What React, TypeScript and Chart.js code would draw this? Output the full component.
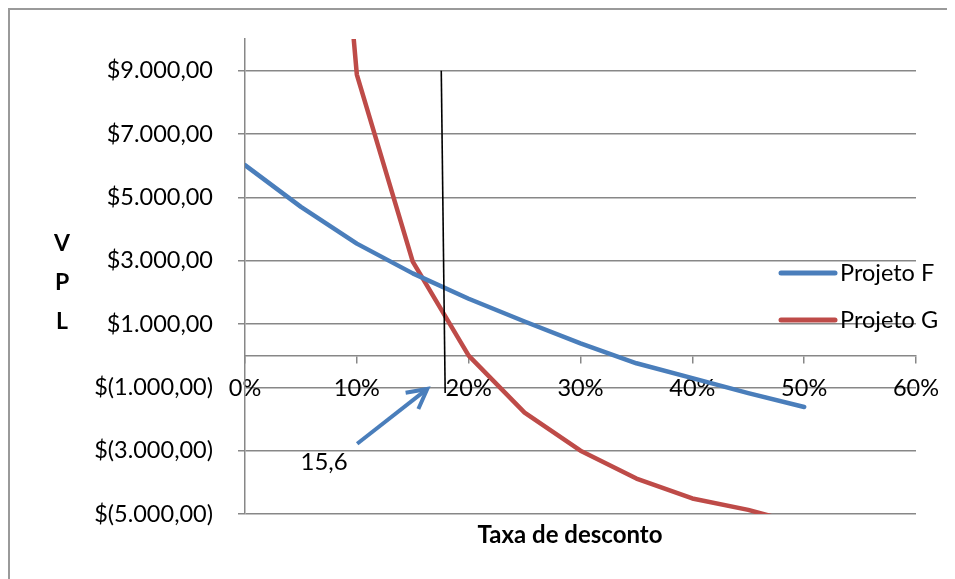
import React, { useEffect, useRef } from "react";
import { Chart, registerables } from "chart.js";

Chart.register(...registerables);

// Discount rates (%) and net present values for each project
const rates = [0, 5, 10, 15, 20, 25, 30, 35, 40, 45, 50];
const projetoF = [6020, 4700, 3540, 2600, 1800, 1080, 390, -240, -710, -1180, -1620];
const projetoG = [52000, 29000, 8880, 2970, 0, -1800, -3000, -3880, -4510, -4870, -5350];

const seriesNames = ["Projeto F", "Projeto G"];
const seriesColors = ["#4A7EBB", "#BE4B48"];

const xTicks = [0, 10, 20, 30, 40, 50, 60];
const yTicks = [-5000, -3000, -1000, 1000, 3000, 5000, 7000, 9000];

const yTitleLetters = ["V", "P", "L"];
const xTitle = "Taxa de desconto";

// Hand-drawn annotations, in data units (rate %, VPL)
const markerTop = [17.55, 9000];
const markerBottom = [17.9, -1180];
const arrowTail = [10.03, -2780];
const arrowTip = [16.3, -1050];
const calloutText = "15,6";
const calloutAt = [7.07, -3380];

const FONT = "Lato, 'Open Sans', sans-serif";
const GRID = "#878787";

function money(v: number): string {
  const abs = Math.abs(v);
  const intPart = Math.floor(abs)
    .toString()
    .replace(/\B(?=(\d{3})+(?!\d))/g, ".");
  const s = intPart + ",00";
  return v < 0 ? `$(${s})` : `$${s}`;
}

const overlayPlugin = {
  id: "overlay",
  afterDraw(chart: any) {
    const { ctx, chartArea } = chart;
    const xs = chart.scales.x;
    const ys = chart.scales.y;
    const px = (p: number[]) => [xs.getPixelForValue(p[0]), ys.getPixelForValue(p[1])];
    ctx.save();

    // outer frame (left and top edges)
    ctx.strokeStyle = "#9a9a9a";
    ctx.lineWidth = 2;
    ctx.beginPath();
    ctx.moveTo(9, chart.height);
    ctx.lineTo(9, 9);
    ctx.lineTo(947, 9);
    ctx.stroke();

    // vertical marker line
    const [mx1, my1] = px(markerTop);
    const [mx2, my2] = px(markerBottom);
    ctx.strokeStyle = "#000";
    ctx.lineWidth = 1.6;
    ctx.beginPath();
    ctx.moveTo(mx1, my1);
    ctx.lineTo(mx2, my2);
    ctx.stroke();

    // arrow
    const [ax1, ay1] = px(arrowTail);
    const [ax2, ay2] = px(arrowTip);
    ctx.strokeStyle = seriesColors[0];
    ctx.lineWidth = 4;
    ctx.lineCap = "butt";
    ctx.lineJoin = "miter";
    const ang = Math.atan2(ay2 - ay1, ax2 - ax1);
    ctx.beginPath();
    ctx.moveTo(ax1, ay1);
    ctx.lineTo(ax2 - Math.cos(ang) * 2, ay2 - Math.sin(ang) * 2);
    ctx.stroke();
    const head = 22;
    const spread = (28 * Math.PI) / 180;
    ctx.beginPath();
    ctx.moveTo(ax2 - head * Math.cos(ang - spread), ay2 - head * Math.sin(ang - spread));
    ctx.lineTo(ax2, ay2);
    ctx.lineTo(ax2 - head * Math.cos(ang + spread), ay2 - head * Math.sin(ang + spread));
    ctx.stroke();

    // callout text
    const [cx, cy] = px(calloutAt);
    ctx.fillStyle = "#000";
    ctx.font = `24px ${FONT}`;
    ctx.textAlign = "center";
    ctx.textBaseline = "middle";
    ctx.fillText(calloutText, cx, cy);

    // axis titles
    ctx.font = `bold 23px ${FONT}`;
    const midY = (chartArea.top + chartArea.bottom) / 2;
    yTitleLetters.forEach((ch, i) => {
      ctx.fillText(ch, 62, midY - 33 + i * 39);
    });
    ctx.font = `bold 24px ${FONT}`;
    ctx.fillText(xTitle, 570, chartArea.bottom + 21);

    // legend
    ctx.textAlign = "left";
    ctx.font = `23.5px ${FONT}`;
    seriesNames.forEach((name, i) => {
      const y = midY - 3.5 + i * 47;
      ctx.strokeStyle = seriesColors[i];
      ctx.lineWidth = 5;
      ctx.lineCap = "round";
      ctx.beginPath();
      ctx.moveTo(chartArea.right - 135, y);
      ctx.lineTo(chartArea.right - 81, y);
      ctx.stroke();
      ctx.fillStyle = "#000";
      ctx.fillText(name, chartArea.right - 76, y);
    });

    ctx.restore();
  },
};

export default function App() {
  const canvasRef = useRef<HTMLCanvasElement | null>(null);

  useEffect(() => {
    if (!canvasRef.current) return;
    const series = [projetoF, projetoG];
    const chart = new Chart(canvasRef.current, {
      type: "line",
      data: {
        datasets: series.map((vals, i) => ({
          label: seriesNames[i],
          data: rates.map((r, j) => ({ x: r, y: vals[j] })),
          borderColor: seriesColors[i],
          backgroundColor: seriesColors[i],
          borderWidth: 4.5,
          borderCapStyle: "round",
          borderJoinStyle: "round",
          pointRadius: 0,
          tension: 0,
          clip: 0,
        })),
      },
      options: {
        responsive: false,
        animation: false,
        devicePixelRatio: 1,
        layout: { padding: { top: 37, right: 39, bottom: 65, left: 0 } },
        plugins: {
          legend: { display: false },
          tooltip: { enabled: false },
        },
        scales: {
          x: {
            type: "linear",
            position: { y: 0 },
            min: 0,
            max: 60,
            afterBuildTicks: (s: any) => {
              s.ticks = xTicks.map((v) => ({ value: v }));
            },
            ticks: {
              callback: (v: any) => `${v}%`,
              color: "#000",
              font: { family: FONT, size: 23.5 },
              padding: 12,
              maxRotation: 0,
              autoSkip: false,
            },
            grid: {
              drawOnChartArea: false,
              drawTicks: true,
              tickLength: 7,
              color: GRID,
              lineWidth: 1.5,
            },
            border: { color: GRID, width: 1.5 },
          },
          y: {
            type: "linear",
            min: -5000,
            max: 10000,
            afterBuildTicks: (s: any) => {
              s.ticks = yTicks.map((v) => ({ value: v }));
            },
            afterFit: (s: any) => {
              s.width = 245;
            },
            ticks: {
              callback: (v: any) => money(Number(v)),
              color: "#000",
              font: { family: FONT, size: 23.5 },
              padding: 25,
              autoSkip: false,
            },
            grid: {
              color: GRID,
              lineWidth: 1.5,
              tickLength: 7,
              tickColor: (c: any) =>
                c.tick && c.tick.value === -1000 ? "rgba(0,0,0,0)" : GRID,
            },
            border: { color: GRID, width: 1.5 },
          },
        },
      },
      plugins: [overlayPlugin],
    } as any);
    return () => chart.destroy();
  }, []);

  return (
    <div style={{ position: "absolute", left: 0, top: 0, width: 955, height: 579, background: "#fff" }}>
      <canvas ref={canvasRef} width={955} height={579} style={{ display: "block" }} />
    </div>
  );
}
